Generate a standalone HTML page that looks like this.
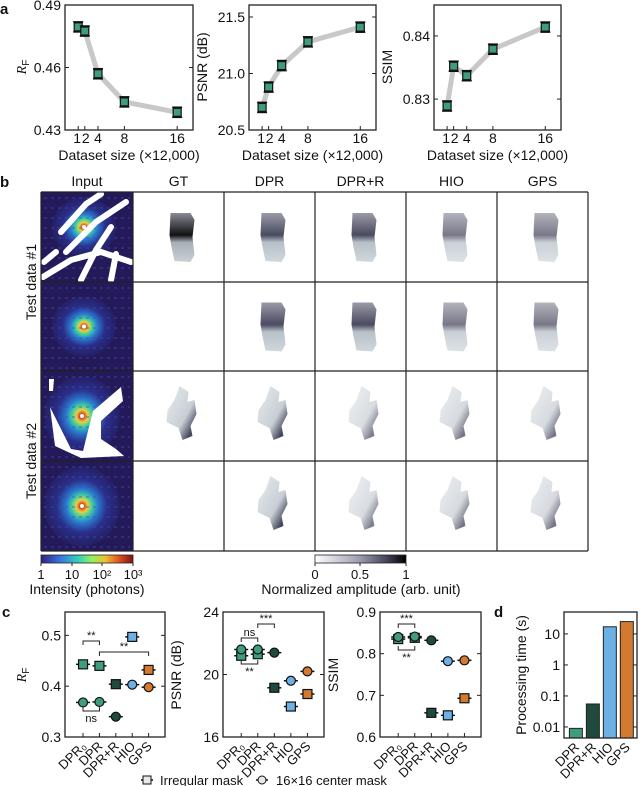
<!DOCTYPE html>
<html><head><meta charset="utf-8">
<style>
body{margin:0;background:#fff;}
svg{display:block;font-family:"Liberation Sans","DejaVu Sans",sans-serif;}
text{fill:#111;}
</style></head>
<body>
<svg id="fig" width="640" height="786" viewBox="0 0 640 786" xmlns="http://www.w3.org/2000/svg">
<defs>
<radialGradient id="diff" cx="50%" cy="50%" r="55%">
<stop offset="0" stop-color="#7a1a10"/><stop offset="0.06" stop-color="#e0502a"/><stop offset="0.14" stop-color="#e8d040"/><stop offset="0.24" stop-color="#40d0a0"/><stop offset="0.38" stop-color="#2a7ad0"/><stop offset="0.6" stop-color="#2a2f8a"/><stop offset="1" stop-color="#241a5a"/>
</radialGradient>
<linearGradient id="blob1" x1="0" y1="0" x2="0" y2="1">
<stop offset="0" stop-color="#9a9aa8"/><stop offset="0.45" stop-color="#4a4a60"/><stop offset="0.6" stop-color="#b8c0c8"/><stop offset="1" stop-color="#d0d8dc"/>
</linearGradient>
<linearGradient id="blobgt" x1="0" y1="0" x2="0" y2="1">
<stop offset="0" stop-color="#8a8a98"/><stop offset="0.45" stop-color="#111"/><stop offset="0.6" stop-color="#a8b0b8"/><stop offset="1" stop-color="#c8d0d4"/>
</linearGradient>
<linearGradient id="blob2" x1="0" y1="0" x2="1" y2="1">
<stop offset="0" stop-color="#e8ecee"/><stop offset="0.6" stop-color="#c8ced4"/><stop offset="0.85" stop-color="#404058"/><stop offset="1" stop-color="#9aa0aa"/>
</linearGradient>
<linearGradient id="cbint" x1="0" y1="0" x2="1" y2="0">
<stop offset="0" stop-color="#30207a"/><stop offset="0.2" stop-color="#3a70e0"/><stop offset="0.4" stop-color="#30d0c0"/><stop offset="0.55" stop-color="#90f060"/><stop offset="0.7" stop-color="#f0c030"/><stop offset="0.85" stop-color="#e05020"/><stop offset="1" stop-color="#801010"/>
</linearGradient>
<linearGradient id="cbamp" x1="0" y1="0" x2="1" y2="0">
<stop offset="0" stop-color="#fff"/><stop offset="0.5" stop-color="#9a9aae"/><stop offset="0.8" stop-color="#404058"/><stop offset="1" stop-color="#000"/>
</linearGradient>
</defs>

<g font-weight="bold" font-size="15">
<text x="0" y="14">a</text><text x="0" y="187">b</text><text x="2" y="617">c</text><text x="494" y="617">d</text>
</g>

<g id="panelA"></g>
<g id="panelB"></g>
<g id="panelC"></g>
<g id="panelD"></g>
</svg>
<script>
// ---------- Panel a data ----------
const sizes = [1, 2, 4, 8, 16];
const rfVals = [0.4795, 0.4775, 0.457, 0.4435, 0.4385];
const psnrVals = [20.70, 20.88, 21.07, 21.28, 21.41];
const ssimVals = [0.8289, 0.8352, 0.8337, 0.8379, 0.8414];
const sizeTicks = [1, 2, 4, 8, 16];
const sizeTickLabels = ["1", "2", "4", "8", "16"];
const rfTicks = [0.43, 0.46, 0.49];
const psnrTicks = [20.5, 21.0, 21.5];
const ssimTicks = [0.83, 0.84];

// ---------- Panel c data ----------
const methods = ["DPR₀", "DPR", "DPR+R", "HIO", "GPS"];
const rfSquare = [0.443, 0.440, 0.404, 0.497, 0.432];
const rfCircle = [0.368, 0.369, 0.340, 0.403, 0.398];
const psnrSquare = [21.2, 21.3, 19.15, 17.95, 18.75];
const psnrCircle = [21.6, 21.6, 21.4, 19.6, 20.2];
const ssimSquare = [0.835, 0.838, 0.658, 0.652, 0.693];
const ssimCircle = [0.840, 0.841, 0.832, 0.782, 0.784];
const rfCTicks = [0.3, 0.4, 0.5];
const psnrCTicks = [16, 20, 24];
const ssimCTicks = [0.6, 0.7, 0.8, 0.9];

// ---------- Panel d data ----------
const timeMethods = ["DPR", "DPR+R", "HIO", "GPS"];
const timeVals = [0.009, 0.055, 17, 25];
const timeTicks = [0.01, 0.1, 1, 10];
const timeTickLabels = ["0.01", "0.1", "1", "10"];

const NS = "http://www.w3.org/2000/svg";
const colors = ["#3f9c7f", "#3f9c7f", "#1f4a3c", "#6cb0e4", "#d47a30"];
function mk(parent, tag, attrs, txt) {
  const e = document.createElementNS(NS, tag);
  for (const k in attrs) e.setAttribute(k, attrs[k]);
  if (txt !== undefined) e.textContent = txt;
  parent.appendChild(e);
  return e;
}
function lin(d0, d1, r0, r1) { return v => r0 + (v - d0) / (d1 - d0) * (r1 - r0); }

function frame(g, x0, y0, x1, y1) {
  const r = mk(g, "rect", {x: x0, y: y0, width: x1 - x0, height: y1 - y0, fill: "none", stroke: "#222", "stroke-width": 1.3});
  
  
}
function yTicks(g, ticks, labels, ys, x0, x1, fmt) {
  ticks.forEach((t, i) => {
    const y = ys(t);
    mk(g, "line", {x1: x0, x2: x0 + 4, y1: y, y2: y, stroke: "#222"});
    mk(g, "line", {x1: x1, x2: x1 - 4, y1: y, y2: y, stroke: "#222"});
    const tx = mk(g, "text", {x: x0 - 4, y: y + 5, "text-anchor": "end", "font-size": 14}, labels ? labels[i] : fmt(t));
    
    
  });
}
function yLabel(g, x, y, txt, name) {
  const t = mk(g, "text", {x: x, y: y, "text-anchor": "middle", "font-size": 14, transform: `rotate(-90 ${x} ${y})`}, txt);
  
  
  return t;
}
function sqMark(g, x, y, c, s) {
  return mk(g, "rect", {x: x - s, y: y - s, width: 2 * s, height: 2 * s, fill: c, stroke: "#111", "stroke-width": 1.2});
}
function errbar(g, x, y, w) {
  mk(g, "line", {x1: x - w, x2: x + w, y1: y, y2: y, stroke: "#111", "stroke-width": 1.6});
}

// ---------- Panel a ----------
(function () {
  const G = document.getElementById("panelA");
  const boxes = [[65, 193], [249, 376], [434, 561]];
  const sets = [
    {vals: rfVals, d: [0.43, 0.49], ticks: rfTicks, fmt: v => v.toFixed(2), lab: "RF", name: "rf"},
    {vals: psnrVals, d: [20.5, 21.606], ticks: psnrTicks, fmt: v => v.toFixed(1), lab: "PSNR (dB)", name: "psnr"},
    {vals: ssimVals, d: [0.8251, 0.8449], ticks: ssimTicks, fmt: v => v.toFixed(2), lab: "SSIM", name: "ssim"}
  ];
  const yT = 5, yB = 130;
  sets.forEach((s, k) => {
    const g = mk(G, "g", {});
    
    
    const [x0, x1] = boxes[k];
    const xs = lin(-1, 18.4, x0, x1);
    const ys = lin(s.d[0], s.d[1], yB, yT);
    let pts = sizes.map((v, i) => xs(v) + "," + ys(s.vals[i])).join(" ");
    const pl = mk(g, "polyline", {points: pts, fill: "none", stroke: "#c8c8c8", "stroke-width": 5, "stroke-linejoin": "round"});
    
    
    sizes.forEach((v, i) => {
      const x = xs(v), y = ys(s.vals[i]);
      errbar(g, x, y - 5, 5); errbar(g, x, y + 5, 5);
      const m = sqMark(g, x, y, "#3f9c7f", 4);
      
      
    });
    frame(g, x0, yT, x1, yB);
    yTicks(g, s.ticks, null, ys, x0, x1, s.fmt);
    sizeTicks.forEach((t) => {
      mk(g, "line", {x1: xs(t), x2: xs(t), y1: yB, y2: yB - 4, stroke: "#222"});
    });
    sizeTickLabels.forEach((l, i) => {
      let dx = sizeTicks[i] === 1 ? -1 : sizeTicks[i] === 2 ? 1 : 0;
      const t = mk(g, "text", {x: xs(sizeTicks[i]) + dx, y: 143, "font-size": 14, "text-anchor": "middle"}, l);
      
      
    });
    const xl = mk(g, "text", {x: (x0 + x1) / 2, y: 160, "font-size": 14, "text-anchor": "middle"}, "Dataset size (×12,000)");
    
    
    if (s.name === "rf") {
      const t = yLabel(g, 26, 67, "", "y-axis-title");
      t.innerHTML = '<tspan font-style="italic" font-family="Liberation Serif">R</tspan><tspan font-size="10" dy="3">F</tspan>';
    } else {
      yLabel(g, x0 - 42, 67, s.lab, "y-axis-title");
    }
  });
})();

// ---------- Panel b ----------
(function () {
  const G = document.getElementById("panelB");
  const cols = [41, 133, 224, 315, 406, 497, 588];
  const rows = [192, 282, 371, 461, 551];
  const heads = ["Input", "GT", "DPR", "DPR+R", "HIO", "GPS"];
  heads.forEach((h, i) => {
    const t = mk(G, "text", {x: (cols[i] + cols[i + 1]) / 2, y: 186, "font-size": 14, "text-anchor": "middle"}, h);
    
    
  });
  yLabel(G, 36, 282, "Test data #1", "row-label");
  yLabel(G, 36, 461, "Test data #2", "row-label");
  for (let r = 0; r < 4; r++) {
    const x0 = cols[0], y0 = rows[r], w = cols[1] - cols[0], h = rows[r + 1] - rows[r];
    const g = mk(G, "g", {});
    
    
    mk(g, "rect", {x: x0, y: y0, width: w, height: h, fill: "#241a5a"});
    const cx = x0 + w / 2 + (r < 2 ? -3 : -5), cy = y0 + h / 2 - (r === 0 ? 10 : 0);
    mk(g, "ellipse", {cx: cx, cy: cy, rx: r >= 2 ? 38 : 32, ry: r >= 2 ? 40 : 30, fill: "url(#diff)"});
    for (let k = 0; k < 9; k++) {
      mk(g, "line", {x1: x0 + 3, x2: x0 + w - 3, y1: y0 + 6 + k * 10, y2: y0 + 6 + k * 10, stroke: "#3a50b0", "stroke-width": 1.5, "stroke-dasharray": "3 4", opacity: 0.5});
    }
    mk(g, "circle", {cx: cx, cy: cy, r: 2, fill: "#fff"});
    if (r === 0) {
      const m = mk(g, "path", {d: `M${x0+20} ${y0+40} L${x0+45} ${y0+12} L${x0+60} ${y0+2} M${x0+25} ${y0+60} L${x0+55} ${y0+30} L${x0+85} ${y0+10} M${x0+2} ${y0+85} L${x0+30} ${y0+68} L${x0+60} ${y0+60} L${x0+90} ${y0+70} M${x0+40} ${y0+88} L${x0+55} ${y0+58} L${x0+70} ${y0+35} M${x0+70} ${y0+88} L${x0+75} ${y0+62} M${x0+3} ${y0+70} L${x0+15} ${y0+60}`, stroke: "#fff", "stroke-width": 6, fill: "none", "stroke-linecap": "round"});
      
      
    }
    if (r === 2) {
      const m = mk(g, "path", {d: `M${x0+9} ${y0+36} L${x0+30} ${y0+78} L${x0+42} ${y0+80} L${x0+52} ${y0+40} L${x0+80} ${y0+16} L${x0+82} ${y0+30} L${x0+60} ${y0+50} L${x0+60} ${y0+68} L${x0+75} ${y0+78} L${x0+83} ${y0+85} L${x0+40} ${y0+87} L${x0+14} ${y0+75} Z M${x0+8} ${y0+8} L${x0+13} ${y0+8} L${x0+12} ${y0+20} L${x0+8} ${y0+20} Z`, fill: "#fff"});
      
      
    }
  }
  const blob1 = (x, y) => `M${x-12} ${y-22} L${x+8} ${y-22} L${x+12} ${y-15} L${x+10} ${y+2} L${x+12} ${y+20} L${x+8} ${y+27} L${x-8} ${y+26} L${x-11} ${y+12} L${x-13} ${y} Z`;
  const blob2 = (x, y) => `M${x-3} ${y-28} L${x+6} ${y-22} L${x+5} ${y-12} L${x+12} ${y-14} L${x+14} ${y} L${x+8} ${y+12} L${x+10} ${y+22} L${x} ${y+26} L${x-4} ${y+14} L${x-16} ${y+8} L${x-15} ${y-4} L${x-8} ${y-14} Z`;
  for (let r = 0; r < 4; r++) {
    for (let c = 1; c < 6; c++) {
      const x0 = cols[c], y0 = rows[r];
      const cx = (x0 + cols[c + 1]) / 2 + 4, cy = (y0 + rows[r + 1]) / 2 - 2;
      if (c === 1 && (r === 1 || r === 3)) continue;
      const isT1 = r < 2;
      const fill = isT1 ? (c === 1 ? "url(#blobgt)" : "url(#blob1)") : "url(#blob2)";
      const p = mk(G, "path", {d: isT1 ? blob1(cx, cy) : blob2(cx, cy), fill: fill, opacity: c >= 4 ? 0.75 : (c === 3 && !isT1 ? 0.7 : 1)});
      
      
    }
  }
  cols.forEach(x => mk(G, "line", {x1: x, x2: x, y1: rows[0], y2: rows[4], stroke: "#222", "stroke-width": 1.2}));
  rows.forEach(y => mk(G, "line", {x1: cols[0], x2: cols[6], y1: y, y2: y, stroke: "#222", "stroke-width": 1.2}));
  const cb1 = mk(G, "rect", {x: 41, y: 555, width: 92, height: 8, fill: "url(#cbint)", stroke: "#222", "stroke-width": 0.8});
  
  
  const cb2 = mk(G, "rect", {x: 315, y: 555, width: 91, height: 8, fill: "url(#cbamp)", stroke: "#222", "stroke-width": 0.8});
  
  
  const cbl1 = [["1", 41], ["10", 72], ["10²", 102], ["10³", 133]];
  cbl1.forEach(([t, x]) => { mk(G, "line", {x1: x, x2: x, y1: 563, y2: 566, stroke: "#222"}); mk(G, "text", {x: x, y: 579, "font-size": 13, "text-anchor": "middle"}, t); });
  const cbl2 = [["0", 315], ["0.5", 360], ["1", 406]];
  cbl2.forEach(([t, x]) => { mk(G, "line", {x1: x, x2: x, y1: 563, y2: 566, stroke: "#222"}); mk(G, "text", {x: x, y: 579, "font-size": 13, "text-anchor": "middle"}, t); });
  const l1 = mk(G, "text", {x: 87, y: 594, "font-size": 14, "text-anchor": "middle"}, "Intensity (photons)");
  
  
  const l2 = mk(G, "text", {x: 361, y: 594, "font-size": 14, "text-anchor": "middle"}, "Normalized amplitude (arb. unit)");
  
  
})();

// ---------- Panel c ----------
(function () {
  const G = document.getElementById("panelC");
  const yT = 612, yB = 737;
  const plots = [
    {x0: 65, x1: 165, sq: rfSquare, ci: rfCircle, d: [0.3, 0.546], ticks: rfCTicks, fmt: v => v.toFixed(1), name: "rf"},
    {x0: 223, x1: 324, sq: psnrSquare, ci: psnrCircle, d: [16, 24], ticks: psnrCTicks, fmt: v => String(v), name: "psnr", lab: "PSNR (dB)"},
    {x0: 380, x1: 481, sq: ssimSquare, ci: ssimCircle, d: [0.6, 0.9], ticks: ssimCTicks, fmt: v => v.toFixed(1), name: "ssim", lab: "SSIM"}
  ];
  plots.forEach(p => {
    const g = mk(G, "g", {});
    
    
    const xs = lin(-1.1, 5, p.x0, p.x1);
    const ys = lin(p.d[0], p.d[1], yB, yT);
    methods.forEach((m, i) => {
      const x = xs(i);
      let y = ys(p.sq[i]);
      mk(g, "line", {x1: x - 7, x2: x + 7, y1: y, y2: y, stroke: "#111", "stroke-width": 1.5});
      const s = sqMark(g, x, y, colors[i], 4.5);
      
      
      y = ys(p.ci[i]);
      mk(g, "line", {x1: x - 7, x2: x + 7, y1: y, y2: y, stroke: "#111", "stroke-width": 1.5});
      const c = mk(g, "circle", {cx: x, cy: y, r: 4.5, fill: colors[i], stroke: "#111", "stroke-width": 1.2});
      
      
      const t = mk(g, "text", {x: x + 4, y: yB + 10, "font-size": 13, "text-anchor": "end", transform: `rotate(-45 ${x + 4} ${yB + 10})`}, m);
      
      
      mk(g, "line", {x1: x, x2: x, y1: yB, y2: yB - 4, stroke: "#222"});
    });
    frame(g, p.x0, yT, p.x1, yB);
    yTicks(g, p.ticks, null, ys, p.x0, p.x1, p.fmt);
    p.xs = xs;
    if (p.name === "rf") {
      const t = yLabel(g, 26, 675, "", "y-axis-title");
      t.innerHTML = '<tspan font-style="italic" font-family="Liberation Serif">R</tspan><tspan font-size="10" dy="3">F</tspan>';
    } else {
      yLabel(g, p.x0 - 42, 675, p.lab, "y-axis-title");
    }
  });
  function bracket(xa, xb, y, dir, lab) {
    const b = mk(G, "path", {d: `M${xa} ${y + 4 * dir} L${xa} ${y} L${xb} ${y} L${xb} ${y + 4 * dir}`, fill: "none", stroke: "#222", "stroke-width": 1});
    
    
    mk(G, "text", {x: (xa + xb) / 2, y: dir > 0 ? y - 2 : y + 11, "font-size": 11, "text-anchor": "middle"}, lab);
  }
  const a = plots[0].xs, b = plots[1].xs, c = plots[2].xs;
  bracket(a(0), a(1), 641, 1, "**");
  bracket(a(1), a(4), 652, 1, "**");
  bracket(a(0), a(1), 711, -1, "ns");
  bracket(b(0), b(1), 638, 1, "ns");
  bracket(b(1), b(2), 624, 1, "***");
  bracket(b(0), b(1), 664, -1, "**");
  bracket(c(0), c(1), 624, 1, "***");
  bracket(c(0), c(1), 650, -1, "**");
  const lg = mk(G, "g", {});
  
  
  mk(lg, "line", {x1: 141, x2: 153, y1: 780, y2: 780, stroke: "#111", "stroke-width": 1.5});
  mk(lg, "rect", {x: 143, y: 776, width: 8, height: 8, fill: "#e8e8e8", stroke: "#111"});
  mk(lg, "text", {x: 160, y: 785, "font-size": 13}, "Irregular mask");
  mk(lg, "line", {x1: 256, x2: 268, y1: 780, y2: 780, stroke: "#111", "stroke-width": 1.5});
  mk(lg, "circle", {cx: 262, cy: 780, r: 4, fill: "#e8e8e8", stroke: "#111"});
  mk(lg, "text", {x: 276, y: 785, "font-size": 13}, "16×16 center mask");
})();

// ---------- Panel d ----------
(function () {
  const G = document.getElementById("panelD");
  const x0 = 564, x1 = 637, yT = 612, yB = 738;
  const ys = v => lin(Math.log10(0.0044), Math.log10(51), yB, yT)(Math.log10(v));
  const xs = lin(-0.7, 3.6, x0, x1);
  const cols = ["#3f9c7f", "#1f4a3c", "#6cb0e4", "#d47a30"];
  timeMethods.forEach((m, i) => {
    const x = xs(i), y = ys(timeVals[i]);
    const r = mk(G, "rect", {x: x - 6.5, y: y, width: 13, height: yB - y, fill: cols[i], stroke: "#222", "stroke-width": 1});
    
    
    const t = mk(G, "text", {x: x + 4, y: yB + 10, "font-size": 13, "text-anchor": "end", transform: `rotate(-45 ${x + 4} ${yB + 10})`}, m);
    
    
  });
  frame(G, x0, yT, x1, yB);
  yTicks(G, timeTicks, timeTickLabels, ys, x0, x1);
  yLabel(G, 526, 675, "Processing time (s)", "y-axis-title");
})();
</script>
</body></html>
